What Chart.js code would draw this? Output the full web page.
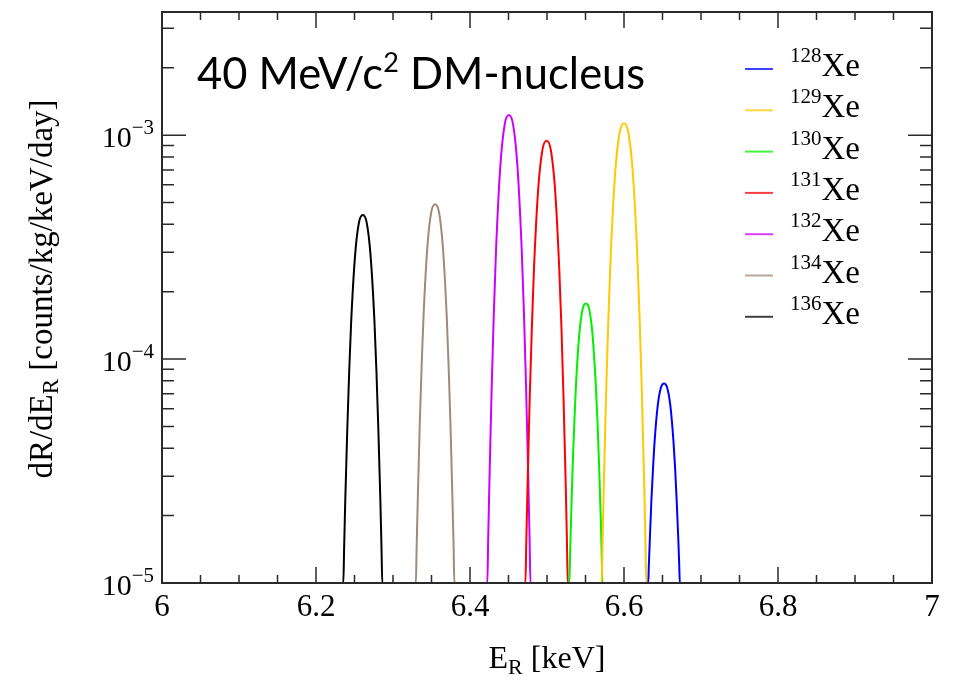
<!DOCTYPE html>
<html>
<head>
<meta charset="utf-8">
<script src="https://cdn.jsdelivr.net/npm/chart.js@4.4.0/dist/chart.umd.min.js"></script>
<style>
  html, body { margin: 0; padding: 0; background: #fff; }
  #wrap { width: 953px; height: 683px; }
</style>
</head>
<body>
<div id="wrap"><canvas id="rateChart" width="953" height="683"></canvas></div>
<script>
// mass numbers of the xenon isotopes, legend order
var isotopes = ['128', '129', '130', '131', '132', '134', '136'];

// recoil energy (keV) and rate (counts/kg/keV/day)
var xe128E = [6, 6.6315, 6.6323, 6.6336, 6.6356, 6.6377, 6.6397, 6.6438, 6.6479, 6.652, 6.6561, 6.6602, 6.6643, 6.6664, 6.6684, 6.6705, 6.6717, 6.6725, 7];
var xe128R = [1e-5, 1e-5, 1.21e-5, 1.58e-5, 2.34e-5, 3.25e-5, 4.27e-5, 6.20e-5, 7.45e-5, 7.78e-5, 7.45e-5, 6.20e-5, 4.27e-5, 3.25e-5, 2.34e-5, 1.58e-5, 1.21e-5, 1e-5, 1e-5];

var xe129E = [6, 6.571, 6.5722, 6.5739, 6.5768, 6.5797, 6.5826, 6.5884, 6.5942, 6.6, 6.6058, 6.6116, 6.6174, 6.6203, 6.6232, 6.6261, 6.6278, 6.629, 7];
var xe129R = [1e-5, 1e-5, 1.55e-5, 2.87e-5, 7.11e-5, 1.52e-4, 2.83e-4, 6.69e-4, 1.02e-3, 1.13e-3, 1.02e-3, 6.69e-4, 2.83e-4, 1.52e-4, 7.11e-5, 2.87e-5, 1.55e-5, 1e-5, 1e-5];

var xe130E = [6, 6.529, 6.5299, 6.5312, 6.5333, 6.5355, 6.5376, 6.5419, 6.5462, 6.5505, 6.5548, 6.5591, 6.5634, 6.5656, 6.5677, 6.5699, 6.5711, 6.572, 7];
var xe130R = [1e-5, 1e-5, 1.31e-5, 1.90e-5, 3.30e-5, 5.22e-5, 7.63e-5, 1.29e-4, 1.67e-4, 1.77e-4, 1.67e-4, 1.29e-4, 7.63e-5, 5.22e-5, 3.30e-5, 1.90e-5, 1.31e-5, 1e-5, 1e-5];

var xe131E = [6, 6.472, 6.4731, 6.4748, 6.4775, 6.4803, 6.483, 6.4885, 6.494, 6.4995, 6.505, 6.5105, 6.516, 6.5188, 6.5215, 6.5243, 6.5259, 6.527, 7];
var xe131R = [1e-5, 1e-5, 1.53e-5, 2.76e-5, 6.60e-5, 1.37e-4, 2.49e-4, 5.70e-4, 8.58e-4, 9.44e-4, 8.58e-4, 5.70e-4, 2.49e-4, 1.37e-4, 6.60e-5, 2.76e-5, 1.53e-5, 1e-5, 1e-5];

var xe132E = [6, 6.4225, 6.4236, 6.4253, 6.4281, 6.4309, 6.4337, 6.4393, 6.4449, 6.4505, 6.4561, 6.4617, 6.4673, 6.4701, 6.4729, 6.4757, 6.4774, 6.4785, 7];
var xe132R = [1e-5, 1e-5, 1.56e-5, 2.92e-5, 7.36e-5, 1.59e-4, 3.00e-4, 7.20e-4, 1.11e-3, 1.23e-3, 1.11e-3, 7.20e-4, 3.00e-4, 1.59e-4, 7.36e-5, 2.92e-5, 1.56e-5, 1e-5, 1e-5];

var xe134E = [6, 6.3297, 6.3307, 6.3322, 6.3347, 6.3372, 6.3397, 6.3447, 6.3497, 6.3547, 6.3597, 6.3647, 6.3697, 6.3722, 6.3747, 6.3772, 6.3787, 6.3797, 7];
var xe134R = [1e-5, 1e-5, 1.44e-5, 2.38e-5, 5.04e-5, 9.40e-5, 1.57e-4, 3.19e-4, 4.54e-4, 4.92e-4, 4.54e-4, 3.19e-4, 1.57e-4, 9.40e-5, 5.04e-5, 2.38e-5, 1.44e-5, 1e-5, 1e-5];

var xe136E = [6, 6.2355, 6.2365, 6.2380, 6.2406, 6.2431, 6.2456, 6.2507, 6.2557, 6.2608, 6.2659, 6.2709, 6.2760, 6.2785, 6.2810, 6.2836, 6.2851, 6.2861, 7];
var xe136R = [1e-5, 1e-5, 1.42e-5, 2.33e-5, 4.81e-5, 8.81e-5, 1.45e-4, 2.89e-4, 4.06e-4, 4.40e-4, 4.06e-4, 2.89e-4, 1.45e-4, 8.81e-5, 4.81e-5, 2.33e-5, 1.42e-5, 1e-5, 1e-5];

// axis ticks
var xTicks = [6, 6.2, 6.4, 6.6, 6.8, 7];
var xTickLabels = ['6', '6.2', '6.4', '6.6', '6.8', '7'];
var yTicks = [1e-5, 1e-4, 1e-3];
var yTickExps = ['\u22125', '\u22124', '\u22123'];

var lineColors = ['#0000ff', '#ffc800', '#00f000', '#ff0000', '#cc00ff', '#a08a78', '#000000'];
var serif = '"Liberation Serif", "Times New Roman", serif';

function points(xs, ys) {
  return xs.map(function(x, i) { return { x: x, y: ys[i] }; });
}

var series = [
  points(xe128E, xe128R), points(xe129E, xe129R), points(xe130E, xe130R),
  points(xe131E, xe131R), points(xe132E, xe132R), points(xe134E, xe134R),
  points(xe136E, xe136R)
];

// draw a run of text pieces (normal / super / subscript) starting at x
function drawRuns(ctx, runs, x, y, align) {
  var total = 0;
  runs.forEach(function(r) {
    ctx.font = r.size + 'px ' + (r.family || serif);
    r.w = ctx.measureText(r.t).width;
    total += r.w;
  });
  var cx = align === 'center' ? x - total / 2 : (align === 'right' ? x - total : x);
  ctx.textAlign = 'left';
  ctx.textBaseline = 'alphabetic';
  runs.forEach(function(r) {
    ctx.font = r.size + 'px ' + (r.family || serif);
    ctx.fillText(r.t, cx, y + (r.dy || 0));
    cx += r.w;
  });
}

var rootFrame = {
  id: 'rootFrame',
  afterDraw: function(chart) {
    var ctx = chart.ctx, a = chart.chartArea;
    var xs = chart.scales.x, ys = chart.scales.y;
    ctx.save();
    ctx.strokeStyle = '#2a2a2a';
    ctx.lineWidth = 2;
    ctx.strokeRect(a.left, a.top, a.right - a.left, a.bottom - a.top);

    ctx.lineWidth = 1.5;
    ctx.beginPath();
    for (var i = 0; i <= 20; i++) {
      var px = xs.getPixelForValue(6 + i * 0.05);
      var len = i % 4 === 0 ? 16 : 8;
      ctx.moveTo(px, a.bottom); ctx.lineTo(px, a.bottom - len);
      ctx.moveTo(px, a.top); ctx.lineTo(px, a.top + len);
    }
    for (var k = -5; k <= -3; k++) {
      for (var m = 1; m <= 9; m++) {
        var v = m * Math.pow(10, k);
        if (v > ys.max) break;
        var py = ys.getPixelForValue(v);
        var l = m === 1 ? 24 : 12;
        ctx.moveTo(a.left, py); ctx.lineTo(a.left + l, py);
        ctx.moveTo(a.right, py); ctx.lineTo(a.right - l, py);
      }
    }
    ctx.stroke();

    ctx.fillStyle = '#000';
    // x tick labels
    xTicks.forEach(function(v, i) {
      drawRuns(ctx, [{ t: xTickLabels[i], size: 31 }], xs.getPixelForValue(v), 616, 'center');
    });
    // y tick labels 10^n
    yTicks.forEach(function(v, i) {
      var py = ys.getPixelForValue(v);
      drawRuns(ctx, [{ t: '10', size: 30 }, { t: yTickExps[i], size: 21, dy: -13 }], 154, py + 12, 'right');
    });
    // axis titles
    drawRuns(ctx, [{ t: 'E', size: 32 }, { t: 'R', size: 22, dy: 6 }, { t: ' [keV]', size: 32 }], (a.left + a.right) / 2, 668, 'center');
    ctx.save();
    ctx.translate(52, 289);
    ctx.rotate(-Math.PI / 2);
    drawRuns(ctx, [{ t: 'dR/dE', size: 33 }, { t: 'R', size: 23, dy: 6 }, { t: ' [counts/kg/keV/day]', size: 33 }], 0, 0, 'center');
    ctx.restore();

    // in-frame title
    var sans = 'Lato, "Open Sans", sans-serif';
    drawRuns(ctx, [{ t: '40 MeV/c', size: 43.5, family: sans }, { t: '2', size: 27, dy: -17, family: sans }, { t: ' DM-nucleus', size: 43.5, family: sans }], 197, 89, 'left');

    // legend
    chart.data.datasets.forEach(function(ds, i) {
      var ly = 69 + i * 41.3;
      ctx.globalAlpha = 0.75;
      ctx.strokeStyle = ds.borderColor;
      ctx.lineWidth = 2;
      ctx.beginPath();
      ctx.moveTo(745, ly); ctx.lineTo(773, ly);
      ctx.stroke();
      ctx.globalAlpha = 1;
      drawRuns(ctx, [{ t: isotopes[i], size: 21, dy: -14 }, { t: 'Xe', size: 33 }], 790, ly + 7, 'left');
    });
    ctx.restore();
  }
};

var ctx = document.getElementById('rateChart').getContext('2d');
new Chart(ctx, {
  type: 'line',
  data: {
    datasets: series.map(function(pts, i) {
      return {
        label: isotopes[i] + 'Xe',
        data: pts,
        borderColor: lineColors[i],
        borderWidth: 2,
        pointRadius: 0,
        cubicInterpolationMode: 'monotone',
        clip: 3
      };
    })
  },
  options: {
    responsive: false,
    animation: false,
    layout: { padding: { left: 162, right: 21, top: 12, bottom: 100 } },
    plugins: { legend: { display: false }, tooltip: { enabled: false } },
    scales: {
      x: { type: 'linear', min: 6, max: 7, display: false },
      y: { type: 'logarithmic', min: 1e-5, max: 3.55e-3, display: false }
    }
  },
  plugins: [rootFrame]
});
</script>
</body>
</html>
